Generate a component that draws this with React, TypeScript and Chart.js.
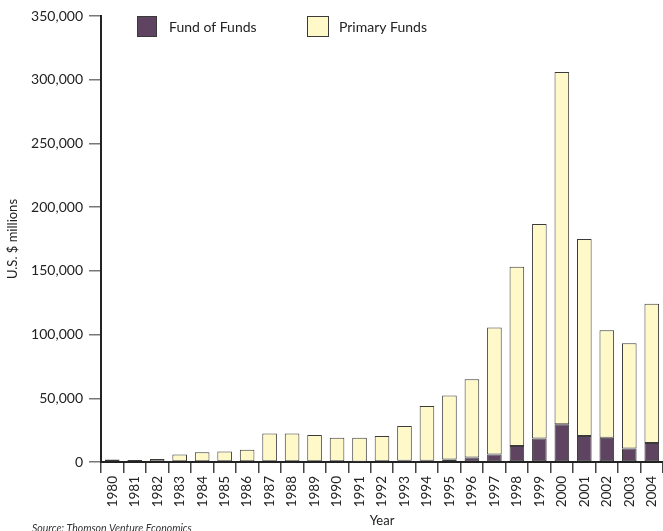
import React, { useEffect, useRef } from "react";
import { Chart, registerables } from "chart.js";

Chart.register(...registerables);

const years = [
  "1980", "1981", "1982", "1983", "1984", "1985", "1986", "1987", "1988", "1989",
  "1990", "1991", "1992", "1993", "1994", "1995", "1996", "1997", "1998", "1999",
  "2000", "2001", "2002", "2003", "2004",
];

const fundOfFunds = [
  0, 0, 0, 0, 0, 0, 0, 0, 0, 0,
  0, 100, 500, 1000, 1000, 1900, 3500, 5800, 12600, 18400,
  29600, 20400, 19100, 10500, 14900,
];

const primaryFunds = [
  1900, 1600, 2300, 5800, 7600, 8200, 9700, 22300, 22300, 21200,
  19100, 19000, 19900, 27300, 43000, 50200, 61400, 99700, 140700, 168400,
  276400, 154600, 84300, 82700, 109300,
];

const yTicks = [0, 50000, 100000, 150000, 200000, 250000, 300000, 350000];

const PURPLE = "#5f4462";
const YELLOW = "#fff9c9";
const EDGE = "#3a3a3a";
const FONT = "Lato, 'Open Sans', sans-serif";

const overlayPlugin = {
  id: "overlay",
  afterDraw(chart: any) {
    const ctx = chart.ctx;
    ctx.save();
    // legend
    const items = [
      { x: 137.5, w: 19, color: PURPLE, label: "Fund of Funds", tx: 169 },
      { x: 307.5, w: 21, color: YELLOW, label: "Primary Funds", tx: 339 },
    ];
    ctx.lineWidth = 1;
    for (const it of items) {
      ctx.fillStyle = it.color;
      ctx.fillRect(it.x, 16.5, it.w, 20);
      ctx.strokeStyle = EDGE;
      ctx.strokeRect(it.x, 16.5, it.w, 20);
      ctx.fillStyle = "#222";
      ctx.font = `14px ${FONT}`;
      ctx.textBaseline = "middle";
      ctx.textAlign = "left";
      ctx.fillText(it.label, it.tx, 27);
    }
    // source note
    ctx.font = `italic 10.5px ${FONT}`;
    ctx.textBaseline = "alphabetic";
    ctx.fillStyle = "#333";
    ctx.fillText("Source: Thomson Venture Economics", 32, 532);
    ctx.restore();
  },
};

export default function App() {
  const ref = useRef<HTMLCanvasElement | null>(null);

  useEffect(() => {
    document.body.style.margin = "0";
    const canvas = ref.current;
    if (!canvas) return;
    const chart = new Chart(canvas, {
      type: "bar",
      data: {
        labels: years,
        datasets: [
          {
            label: "Fund of Funds",
            data: fundOfFunds,
            backgroundColor: PURPLE,
            borderColor: EDGE,
            borderWidth: 1,
            borderSkipped: false,
            barPercentage: 0.65,
            categoryPercentage: 1,
          },
          {
            label: "Primary Funds",
            data: primaryFunds,
            backgroundColor: YELLOW,
            borderColor: EDGE,
            borderWidth: 1,
            borderSkipped: false,
            barPercentage: 0.65,
            categoryPercentage: 1,
          },
        ],
      },
      options: {
        responsive: false,
        animation: false,
        layout: { padding: { top: 16, right: 0, left: 0, bottom: 0 } },
        plugins: {
          legend: { display: false },
          tooltip: { enabled: false },
        },
        scales: {
          x: {
            stacked: true,
            offset: true,
            grid: {
              display: true,
              drawOnChartArea: false,
              drawTicks: true,
              tickLength: 11,
              color: "#444",
              lineWidth: 1.5,
              offset: true,
            },
            border: { display: true, color: "#222", width: 2 },
            ticks: {
              minRotation: 90,
              maxRotation: 90,
              autoSkip: false,
              padding: 3,
              color: "#222",
              font: { family: FONT, size: 13.5 },
            },
            title: {
              display: true,
              text: "Year",
              color: "#222",
              padding: { top: 0, bottom: 2 },
              font: { family: FONT, size: 13 },
            },
            afterFit: (s: any) => {
              s.height = 69;
              s.paddingRight = 0;
              s.paddingLeft = 0;
            },
          },
          y: {
            stacked: true,
            min: 0,
            max: 350000,
            afterBuildTicks: (s: any) => {
              s.ticks = yTicks.map((v) => ({ value: v }));
            },
            grid: {
              display: true,
              drawOnChartArea: false,
              drawTicks: true,
              tickLength: 12,
              color: "#777",
              lineWidth: 1.5,
            },
            border: { display: true, color: "#222", width: 2 },
            ticks: {
              padding: 6,
              color: "#222",
              font: { family: FONT, size: 14 },
              callback: (v: any) => Number(v).toLocaleString("en-US"),
            },
            title: {
              display: true,
              text: "U.S. $ millions",
              color: "#222",
              padding: { top: 5, bottom: 0 },
              font: { family: FONT, size: 13 },
            },
            afterFit: (s: any) => {
              s.width = 101;
            },
          },
        },
      },
      plugins: [overlayPlugin],
    });
    return () => chart.destroy();
  }, []);

  return (
    <div style={{ width: 663, height: 531 }}>
      <canvas ref={ref} width={663} height={531} />
    </div>
  );
}
